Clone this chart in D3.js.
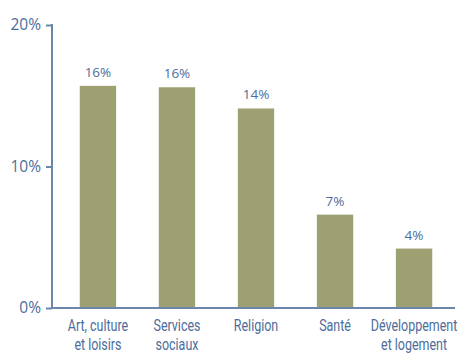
<!DOCTYPE html>
<html>
<head>
<meta charset="utf-8">
<script src="https://cdn.jsdelivr.net/npm/d3@7"></script>
<style>
  html, body { margin: 0; padding: 0; background: #fff; }
  svg { display: block; }
</style>
</head>
<body>
<svg id="chart" width="465" height="354"></svg>
<script>
// Share of organisations by activity sector
const categories = [
  ["Art, culture", "et loisirs"],
  ["Services", "sociaux"],
  ["Religion"],
  ["Santé"],
  ["Développement", "et logement"]
];
const values = [15.7, 15.6, 14.1, 6.6, 4.2];
const yTicks = [0, 10, 20];

const axisColor = "#6b86ab";
const textColor = "#4c6d9c";
const barColor = "#9da172";

const svg = d3.select("#chart");
const keys = categories.map(c => c.join(" "));

const x = d3.scaleBand()
  .domain(keys)
  .range([60, 452])
  .paddingInner(0.54)
  .paddingOuter(0.25);

const y = d3.scaleLinear().domain([0, 20]).range([308, 25]);

// Bars
svg.append("g").selectAll("rect")
  .data(values)
  .join("rect")
  .attr("x", (d, i) => x(keys[i]))
  .attr("width", x.bandwidth())
  .attr("y", d => y(d))
  .attr("height", d => y(0) - y(d))
  .attr("fill", barColor);

// Value labels
svg.append("g").selectAll("text")
  .data(values)
  .join("text")
  .attr("x", (d, i) => x(keys[i]) + x.bandwidth() / 2)
  .attr("y", d => y(d) - 9)
  .attr("text-anchor", "middle")
  .attr("font-family", "'Open Sans', 'Noto Sans', sans-serif")
  .attr("font-size", 13.5)
  .attr("fill", textColor)
  .text(d => d3.format(".0f")(d) + "%");

// Y axis
const yAxis = d3.axisLeft(y)
  .tickValues(yTicks)
  .tickFormat(d => d + "%")
  .tickSize(6)
  .tickPadding(5);

const gy = svg.append("g")
  .attr("transform", "translate(52,0)")
  .call(yAxis);
gy.select(".domain").remove();
gy.selectAll(".tick line").attr("stroke", axisColor).attr("stroke-width", 2);
gy.selectAll(".tick text")
  .attr("fill", textColor)
  .attr("font-family", "'Open Sans', 'Noto Sans', sans-serif")
  .attr("font-size", 15.5);

// Axis lines
svg.append("line")
  .attr("x1", 52).attr("x2", 52)
  .attr("y1", y(20) - 1).attr("y2", y(0) + 1)
  .attr("stroke", axisColor).attr("stroke-width", 2);
svg.append("line")
  .attr("x1", 51).attr("x2", 455)
  .attr("y1", y(0)).attr("y2", y(0))
  .attr("stroke", axisColor).attr("stroke-width", 2);

// Category labels, set in a horizontally condensed face
const squeeze = 0.78;
const cat = svg.append("g").selectAll("text")
  .data(categories)
  .join("text")
  .attr("transform", (d, i) => `translate(${x(keys[i]) + x.bandwidth() / 2},331) scale(${squeeze},1)`)
  .attr("text-anchor", "middle")
  .attr("font-family", "Roboto, 'Liberation Sans', sans-serif")
  .attr("font-size", 16)
  .attr("fill", textColor);
cat.selectAll("tspan")
  .data(d => d)
  .join("tspan")
  .attr("x", 0)
  .attr("dy", (d, i) => i === 0 ? 0 : 19)
  .text(d => d);
</script>
</body>
</html>
